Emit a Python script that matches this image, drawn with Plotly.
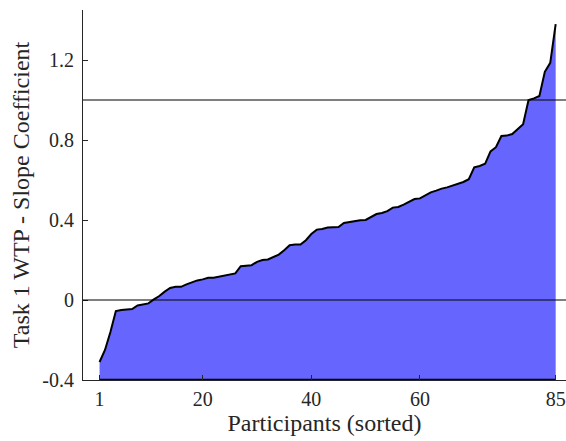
import plotly.graph_objects as go

participants = list(range(1, 86))
slope = [
    -0.31, -0.25, -0.16, -0.055, -0.05, -0.046, -0.045, -0.027, -0.023, -0.017,
    0.003, 0.02, 0.042, 0.06, 0.066, 0.066, 0.078, 0.09, 0.098, 0.103,
    0.111, 0.111, 0.116, 0.123, 0.126, 0.133, 0.169, 0.173, 0.174, 0.191,
    0.2, 0.203, 0.216, 0.227, 0.249, 0.274, 0.277, 0.277, 0.299, 0.33,
    0.352, 0.355, 0.362, 0.364, 0.365, 0.385, 0.39, 0.397, 0.399, 0.4,
    0.415, 0.43, 0.435, 0.444, 0.462, 0.465, 0.477, 0.492, 0.505, 0.508,
    0.525, 0.538, 0.547, 0.557, 0.563, 0.572, 0.583, 0.59, 0.604, 0.663,
    0.67, 0.681, 0.743, 0.764, 0.82, 0.822, 0.83, 0.854, 0.879, 1.0,
    1.008, 1.02, 1.141, 1.186, 1.379,
]
baseline_value = -0.4
ref_lines = [0, 1]
x_ticks = [1, 20, 40, 60, 85]
y_ticks = [-0.4, 0, 0.4, 0.8, 1.2]
y_tick_text = ["-0.4", "0", "0.4", "0.8", "1.2"]

FONT = "Liberation Serif"

fig = go.Figure()
fig.add_trace(go.Scatter(
    x=participants, y=[baseline_value] * len(participants),
    mode="lines", line=dict(color="black", width=2.5),
    hoverinfo="skip", showlegend=False, cliponaxis=False,
))
fig.add_trace(go.Scatter(
    x=participants, y=slope, mode="lines",
    line=dict(color="black", width=2),
    fill="tonexty", fillcolor="#6666FF", showlegend=False,
))

for v in ref_lines:
    fig.add_shape(type="line", xref="paper", x0=0, x1=1, yref="y", y0=v, y1=v,
                  line=dict(color="black", width=1.2))

fig.update_layout(
    width=566, height=441,
    margin=dict(l=83, r=0, t=10, b=61),
    plot_bgcolor="white", paper_bgcolor="white",
    font=dict(family=FONT, size=20, color="#262626"),
    xaxis=dict(
        range=[-2.05, 86.9], tickvals=x_ticks, ticktext=[str(t) for t in x_ticks],
        ticks="inside", ticklen=5, tickcolor="#262626", showline=True,
        linecolor="#262626", linewidth=1, showgrid=False, zeroline=False,
        ticklabelstandoff=1,
        title=dict(text="Participants (sorted)", font=dict(size=24, family=FONT), standoff=4),
        tickfont=dict(size=20, family=FONT),
    ),
    yaxis=dict(
        range=[-0.4, 1.45], tickvals=y_ticks, ticktext=y_tick_text,
        ticks="inside", ticklen=5, tickcolor="#262626", showline=True,
        linecolor="#262626", linewidth=1, showgrid=False, zeroline=False,
        ticklabelstandoff=4,
        title=dict(text="Task 1 WTP - Slope Coefficient", font=dict(size=24, family=FONT), standoff=5),
        tickfont=dict(size=20, family=FONT),
    ),
)

fig.write_html("out.html")
